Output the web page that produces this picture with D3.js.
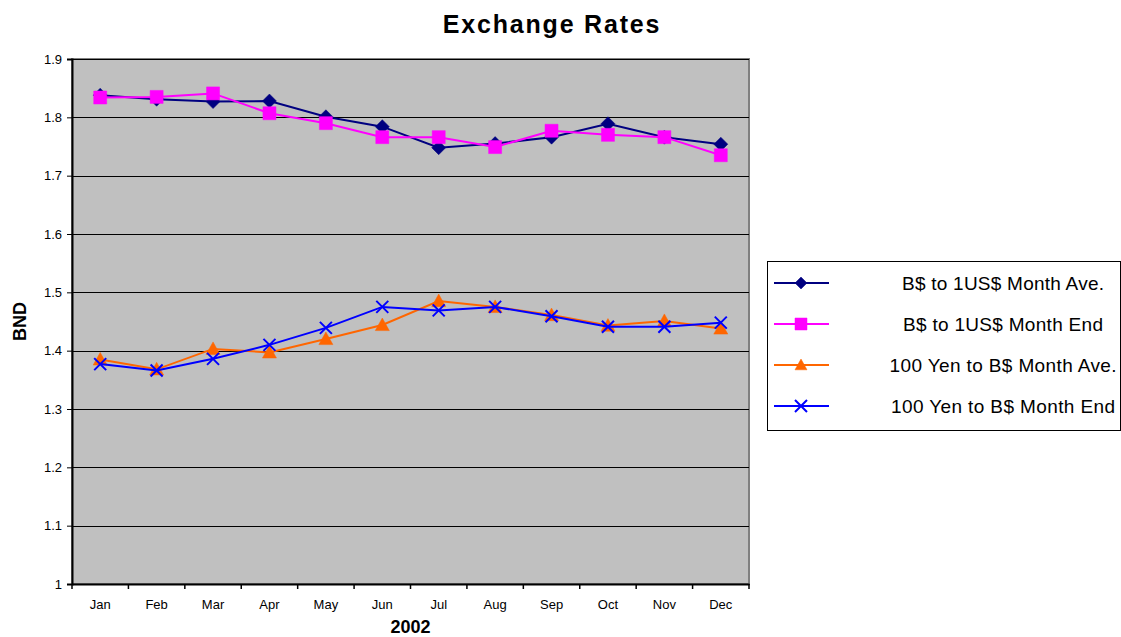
<!DOCTYPE html>
<html>
<head>
<meta charset="utf-8">
<script src="https://cdnjs.cloudflare.com/ajax/libs/d3/7.8.5/d3.min.js"></script>
<style>
  body { margin: 0; background: #fff; }
  svg { display: block; font-family: "Liberation Sans", Arial, sans-serif; }
</style>
</head>
<body>
<svg id="chart" width="1121" height="637"></svg>
<script>
let months = ['Jan', 'Feb', 'Mar', 'Apr', 'May', 'Jun', 'Jul', 'Aug', 'Sep', 'Oct', 'Nov', 'Dec'];
let y_ticks = [1, 1.1, 1.2, 1.3, 1.4, 1.5, 1.6, 1.7, 1.8, 1.9];

let usd_ave = [1.838, 1.831, 1.827, 1.828, 1.801, 1.784, 1.748, 1.755, 1.766, 1.789, 1.766, 1.754];
let usd_end = [1.834, 1.835, 1.841, 1.807, 1.790, 1.766, 1.766, 1.749, 1.777, 1.770, 1.766, 1.735];
let yen_ave = [1.385, 1.368, 1.403, 1.397, 1.420, 1.444, 1.485, 1.475, 1.461, 1.443, 1.451, 1.438];
let yen_end = [1.377, 1.366, 1.386, 1.410, 1.439, 1.475, 1.469, 1.475, 1.459, 1.441, 1.441, 1.448];

let series_names = ['B$ to 1US$ Month Ave.', 'B$ to 1US$ Month End', '100 Yen to B$ Month Ave.', '100 Yen to B$ Month End'];
let series_colors = ['#000080', '#FF00FF', '#FF6600', '#0000FF'];
let series_markers = ['diamond', 'square', 'triangle', 'cross'];
let series_values = [usd_ave, usd_end, yen_ave, yen_end];

let plot = {left: 72, top: 59, right: 749, bottom: 584};

let svg = d3.select('#chart');

let x = d3.scaleBand().domain(months).range([plot.left, plot.right]);
let y = d3.scaleLinear().domain([1, 1.9]).range([plot.bottom, plot.top]);

// plot background
svg.append('rect')
	.attr('x', plot.left)
	.attr('y', plot.top)
	.attr('width', plot.right - plot.left)
	.attr('height', plot.bottom - plot.top)
	.attr('fill', '#C0C0C0')
	.attr('stroke', '#808080')
	.attr('stroke-width', 2);

// gridlines
svg.append('g')
	.selectAll('line')
	.data(y_ticks.slice(1))
	.enter()
	.append('line')
	.attr('x1', plot.left)
	.attr('x2', plot.right)
	.attr('y1', d => Math.round(y(d)) + 0.5)
	.attr('y2', d => Math.round(y(d)) + 0.5)
	.attr('stroke', '#000')
	.attr('stroke-width', 1);

// y axis
let yAxis = svg.append('g')
	.attr('transform', `translate(${plot.left}, 0)`)
	.call(d3.axisLeft(y).tickValues(y_ticks).tickFormat(d3.format('')).tickSize(5).tickPadding(5));
yAxis.select('.domain').attr('stroke', '#000').attr('stroke-width', 2);
yAxis.selectAll('text').attr('font-size', 13).attr('font-family', '"Liberation Sans", Arial, sans-serif').attr('fill', '#000');

// x axis
let xAxis = svg.append('g')
	.attr('transform', `translate(0, ${plot.bottom})`)
	.call(d3.axisBottom(x).tickSize(0).tickPadding(16));
xAxis.select('.domain').attr('stroke', '#000').attr('stroke-width', 2);
xAxis.selectAll('text').attr('font-size', 13).attr('font-family', '"Liberation Sans", Arial, sans-serif').attr('fill', '#000');

// category edge ticks
svg.append('g')
	.selectAll('line')
	.data(months.concat(['end']))
	.enter()
	.append('line')
	.attr('x1', (d, i) => plot.left + i * x.step())
	.attr('x2', (d, i) => plot.left + i * x.step())
	.attr('y1', plot.bottom)
	.attr('y2', plot.bottom + 5)
	.attr('stroke', '#000')
	.attr('stroke-width', 1.5);

function marker_path(kind, s) {
	let h = s / 2;
	if (kind == 'diamond') return `M0,${-h}L${h},0L0,${h}L${-h},0Z`;
	if (kind == 'square') return `M${-h},${-h}H${h}V${h}H${-h}Z`;
	if (kind == 'triangle') return `M0,${-h}L${h},${h*0.8}L${-h},${h*0.8}Z`;
	return `M${-h},${-h}L${h},${h}M${h},${-h}L${-h},${h}`;
}

let line_function = d3.line()
	.x((d, i) => x(months[i]) + x.bandwidth() / 2)
	.y(d => y(d));

let marker_size = [14, 13, 14, 12];

series_values.forEach((vals, k) => {
	let g = svg.append('g').attr('class', 'series');
	g.append('path')
		.attr('d', line_function(vals))
		.attr('fill', 'none')
		.attr('stroke', series_colors[k])
		.attr('stroke-width', 2);
	g.selectAll('.mark')
		.data(vals)
		.enter()
		.append('path')
		.attr('class', 'mark')
		.attr('transform', (d, i) => `translate(${x(months[i]) + x.bandwidth() / 2}, ${y(d)})`)
		.attr('d', marker_path(series_markers[k], marker_size[k]))
		.attr('fill', series_markers[k] == 'cross' ? 'none' : series_colors[k])
		.attr('stroke', series_colors[k])
		.attr('stroke-width', series_markers[k] == 'cross' ? 2 : 0.5);
});

// title
svg.append('text')
	.attr('x', 552)
	.attr('y', 33)
	.attr('text-anchor', 'middle')
	.attr('font-size', 25)
	.attr('font-weight', 'bold')
	.attr('letter-spacing', 1.8)
	.text('Exchange Rates');

// axis titles
svg.append('text')
	.attr('x', (plot.left + plot.right) / 2)
	.attr('y', 633)
	.attr('text-anchor', 'middle')
	.attr('font-size', 18)
	.attr('font-weight', 'bold')
	.text('2002');

svg.append('text')
	.attr('transform', `translate(26, ${(plot.top + plot.bottom) / 2}) rotate(-90)`)
	.attr('text-anchor', 'middle')
	.attr('font-size', 18)
	.attr('font-weight', 'bold')
	.text('BND');

// legend
let legend = svg.append('g').attr('transform', 'translate(767, 261)');
legend.append('rect')
	.attr('x', 0.5)
	.attr('y', 0.5)
	.attr('width', 353)
	.attr('height', 169)
	.attr('fill', '#fff')
	.attr('stroke', '#000')
	.attr('stroke-width', 1);

let row = legend.selectAll('.leg_row')
	.data(series_names)
	.enter()
	.append('g')
	.attr('class', 'leg_row')
	.attr('transform', (d, i) => `translate(0, ${22 + i * 41})`);

row.append('line')
	.attr('x1', 7)
	.attr('x2', 62)
	.attr('stroke', (d, i) => series_colors[i])
	.attr('stroke-width', 2);
row.append('path')
	.attr('transform', 'translate(34, 0)')
	.attr('d', (d, i) => marker_path(series_markers[i], 12))
	.attr('fill', (d, i) => series_markers[i] == 'cross' ? 'none' : series_colors[i])
	.attr('stroke', (d, i) => series_colors[i])
	.attr('stroke-width', (d, i) => series_markers[i] == 'cross' ? 2 : 0.5);
row.append('text')
	.attr('x', 236)
	.attr('y', 7)
	.attr('text-anchor', 'middle')
	.attr('font-size', 19)
	.attr('font-family', '"Liberation Sans Narrow", "Liberation Sans", Arial, sans-serif')
	.attr('textLength', (d, i) => [202, 200, 227, 224][i])
	.attr('lengthAdjust', 'spacing')
	.text(d => d);
</script>
</body>
</html>
